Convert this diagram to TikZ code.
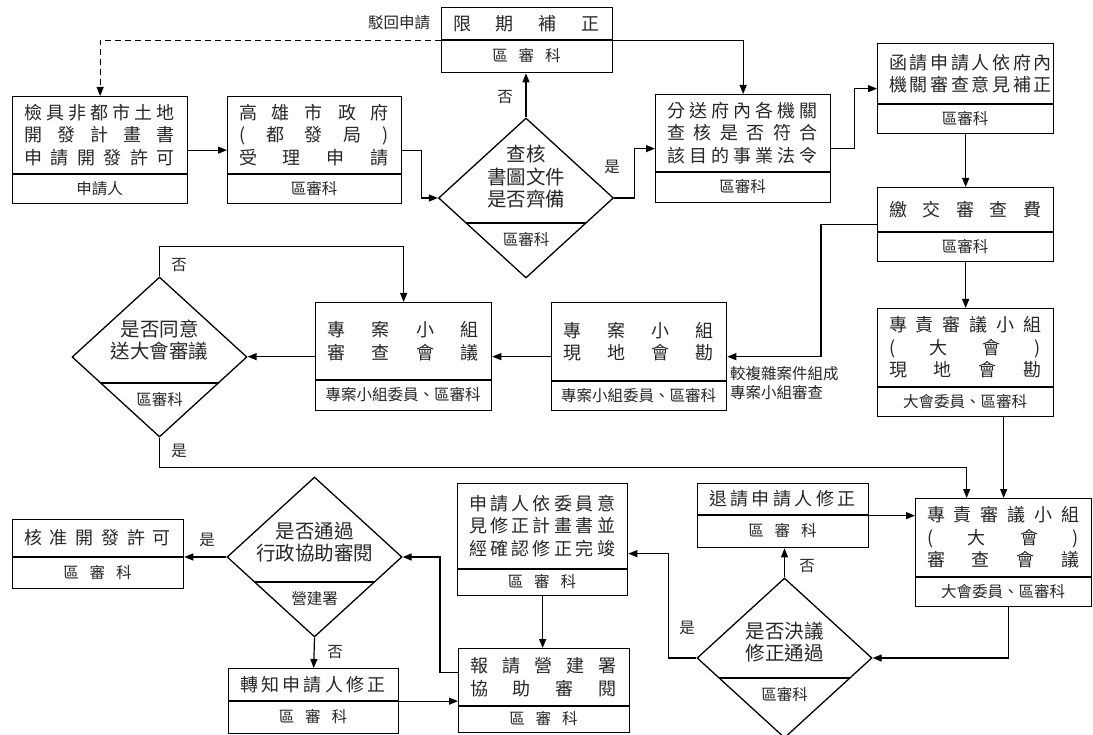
\documentclass[tikz,border=0pt]{standalone}
\usepackage{fontspec}
\setmainfont{Noto Sans CJK TC}
\usetikzlibrary{shapes.geometric,arrows.meta,calc}
\newlength\jw
\newcommand\J[1]{\makebox[\jw][s]{#1}}
\newcommand\gp{\hspace{.7em}}
\newcommand\pbox[8]{%
  \pgfmathsetlength\jw{(#4-#2-24)*1pt}%
  \node[pbox, minimum width={(#4-#2)*1pt}, minimum height={(#5-#3)*1pt}, anchor=north west] (#1) at (#2,#3) {};
  \draw[divline] (#2,#6) -- (#4,#6);
  \node[maintxt] (#1-t) at ({(#2+#4)/2},{(#3+#6)/2}) {#7};
  \node[subtxt] (#1-b) at ({(#2+#4)/2},{(#6+#5)/2}) {#8};
}
\newcommand\dbox[7]{%
  \node[dia] (#1) at (#2,#3) {};
  \pgfmathsetmacro\ddx{87.5*(1-(#4-#3)/80)}%
  \draw[divline] ({#2-\ddx},#4) -- ({#2+\ddx},#4);
  \node[diatxt] (#1-t) at (#2,#5) {#6};
  \node[subtxt] (#1-b) at (#2,{#4+17}) {#7};
}
\begin{document}
\begin{tikzpicture}[x=1pt,y=-1pt,
  every node/.style={text=black!85},
  pbox/.style={draw, line width=1.3pt, inner sep=0pt, rectangle},
  divline/.style={line width=1.3pt},
  maintxt/.style={align=center, inner sep=0pt, font=\fontsize{18pt}{22.5pt}\selectfont},
  subtxt/.style={inner sep=0pt, font=\fontsize{15.5pt}{18pt}\selectfont},
  dia/.style={draw, diamond, line width=1.3pt, inner sep=0pt, minimum width=175pt, minimum height=160pt},
  diatxt/.style={align=center, inner sep=0pt, font=\fontsize{19.5pt}{22.5pt}\selectfont},
  lab/.style={inner sep=0pt, font=\fontsize{15.5pt}{19pt}\selectfont},
  arr/.style={line width=1.2pt, -{Triangle[length=9pt,width=7pt]}},
  dasharr/.style={arr, dash pattern=on 6pt off 4pt},
]
\useasboundingbox (0,0) rectangle (1093,735);

% process boxes
\pbox{A}{12}{96}{187}{203}{174}{\J{檢 具 非 都 市 土 地}\\\J{開 發 計 畫 書}\\\J{申 請 開 發 許 可}}{申請人}
\pbox{B}{227}{96}{401}{203}{174}{\J{高 雄 市 政 府}\\\J{( 都 發 局 )}\\\J{受 理 申 請}}{區審科}
\pbox{C}{441}{7}{612}{72}{40}{\J{限 期 補 正}}{區\gp 審\gp 科}
\pbox{E}{655}{94}{830}{202}{172}{\J{分 送 府 內 各 機 關}\\\J{查 核 是 否 符 合}\\\J{該 目 的 事 業 法 令}}{區審科}
\pbox{F}{877}{43}{1053}{133}{104}{\J{函 請 申 請 人 依 府 內}\\\J{機 關 審 查 意 見 補 正}}{區審科}
\pbox{G}{877}{187}{1053}{261}{232}{\J{繳 交 審 查 費}}{區審科}
\pbox{J}{877}{308}{1053}{416}{387}{\J{專 責 審 議 小 組}\\\J{( 大 會 )}\\\J{現 地 會 勘}}{大會委員、區審科}
\pbox{I}{551}{302}{726}{410}{381}{\J{專 案 小 組}\\\J{現 地 會 勘}}{專案小組委員、區審科}
\pbox{H}{315}{302}{491}{410}{380}{\J{專 案 小 組}\\\J{審 查 會 議}}{專案小組委員、區審科}
\pbox{K}{915}{498}{1091}{606}{577}{\J{專 責 審 議 小 組}\\\J{( 大 會 )}\\\J{審 查 會 議}}{大會委員、區審科}
\pbox{L}{697}{483}{868}{547}{515}{\J{退 請 申 請 人 修 正}}{區\gp 審\gp 科}
\pbox{M}{457}{483}{627}{595}{569}{\J{申 請 人 依 委 員 意}\\\J{見 修 正 計 畫 書 並}\\\J{經 確 認 修 正 完 竣}}{區\gp 審\gp 科}
\pbox{N}{458}{648}{629}{732}{706}{\J{報 請 營 建 署}\\\J{協 助 審 閱}}{區\gp 審\gp 科}
\pbox{P}{12}{519}{183}{588}{557}{\J{核 准 開 發 許 可}}{區\gp 審\gp 科}
\pbox{Q}{228}{668}{398}{733}{701}{\J{轉 知 申 請 人 修 正}}{區\gp 審\gp 科}

% decisions
\dbox{D1}{526}{198}{223}{177}{查核\\書圖文件\\是否齊備}{區審科}
\dbox{D2}{159.5}{357}{383}{340}{是否同意\\送大會審議}{區審科}
\dbox{D3}{314.5}{557}{582}{542}{是否通過\\行政協助審閱}{營建署}
\dbox{D4}{784.5}{658}{678}{642}{是否決議\\修正通過}{區審科}

% connectors
\draw[arr] (A) -- (B);
\draw[arr] (B.east) -- ++(19,0) |- (D1.west);
\draw[arr] (D1.north) -- (D1.north |- C.south);
\draw[arr] (D1.east) -- ++(20,0) |- (E.west);
\draw[arr] (C.east) -| (E.north);
\draw[dasharr] (C.west) -| (A.north);
\draw[arr] (E.east) -- ++(23,0) |- (F.west);
\draw[arr] (F.south) -- (G.north);
\draw[arr] (G.west) -- ++(-56,0) |- (I.east);
\draw[arr] (G.south) -- (J.north);
\draw[arr] (I.west) -- (H.east);
\draw[arr] (H.west) -- (H.west -| D2.east);
\draw[arr] (D2.north) -- ++(0,-30) -| (H.north);
\draw[arr] (D2.south) -- ++(0,30) -| ($(K.north)+(-37,0)$);
\draw[arr] (J.south -| K.north) -- (K.north);
\draw[arr] ($(K.south)+(5,0)$) |- (D4.east);
\draw[arr] (D4.north) -- (D4.north |- L.south);
\draw[arr] (L.east) -- (L.east -| K.west);
\draw[arr] (D4.west) -- ++(-28,0) |- ($(M.east)+(0,14)$);
\draw[arr] (M.south) -- (M.south |- N.north);
\draw[arr] ($(N.west)+(0,-18)$) -- ++(-18,0) |- (D3.east);
\draw[arr] (Q.east) -- (Q.east -| N.west);
\draw[arr] (D3.south) -- (Q.north);
\draw[arr] (D3.west) -- (D3.west -| P.east);

% labels
\node[lab] (l1) at (399,23) {駁回申請};
\node[lab] (l2) at (505,97) {否};
\node[lab] (l3) at (612,167) {是};
\node[lab] (l4) at (179,265) {否};
\node[lab] (l5) at (179,451) {是};
\node[lab, align=left, anchor=west] (l6) at (730,383) {較複雜案件組成\\專案小組審查};
\node[lab] (l7) at (207,540) {是};
\node[lab] (l8) at (335,652) {否};
\node[lab] (l9) at (807,566) {否};
\node[lab] (l10) at (687,628) {是};
\end{tikzpicture}
\end{document}
